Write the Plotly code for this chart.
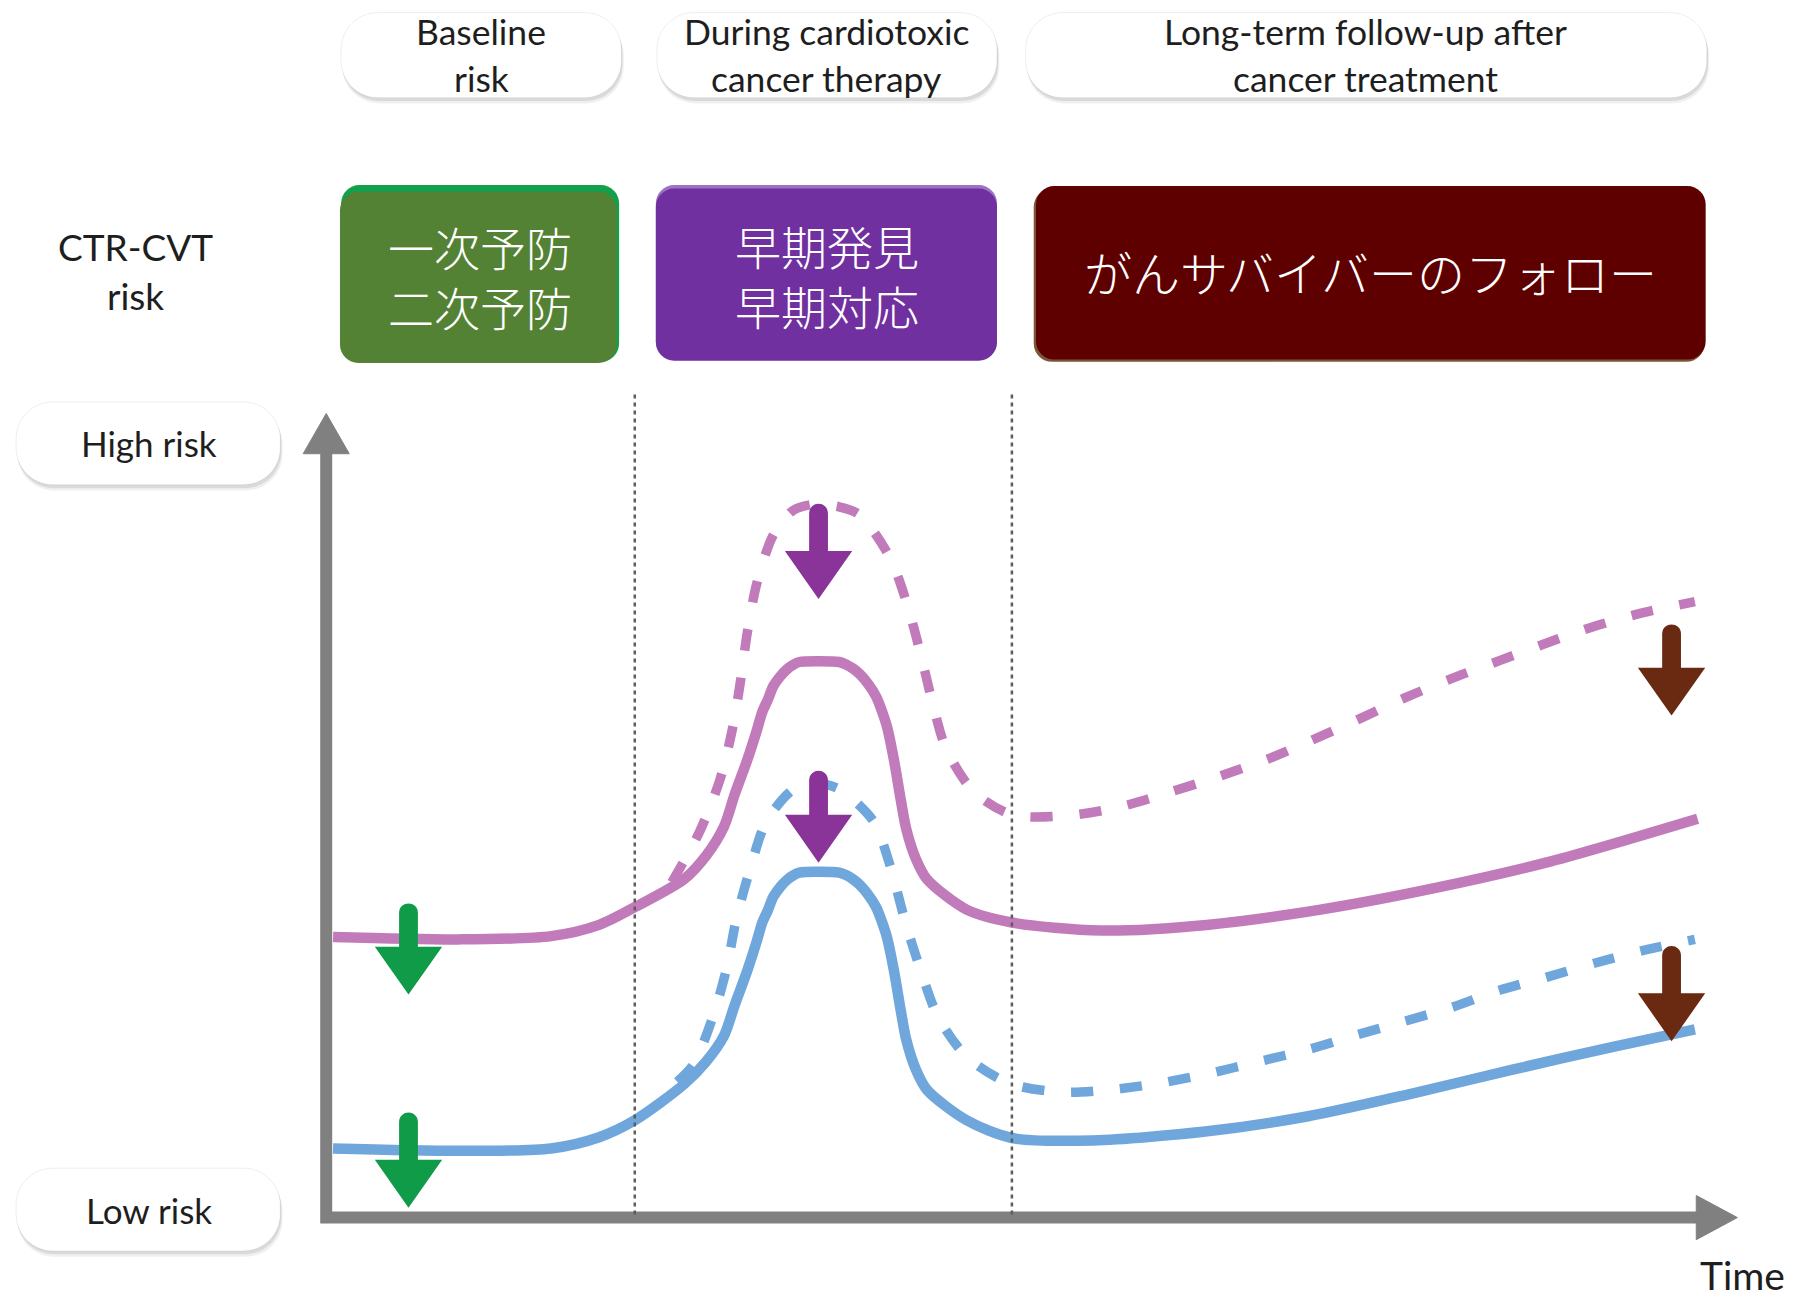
import plotly.graph_objects as go

# ---------------------------------------------------------------------------
# Risk trajectories (time in arbitrary units 0-100, risk in arbitrary units)
# purple = high baseline risk patient, blue = low baseline risk patient
# solid = with cardio-oncology care, dashed = without
# ---------------------------------------------------------------------------
high_solid_t = [0.5, 9.7, 16.4, 19.9, 22.5, 26.1, 27.7, 29.0, 29.8, 30.7,
                31.4, 31.8, 32.2, 32.6, 33.1, 33.6, 34.0, 34.5, 35.9, 37.4,
                37.9, 38.4, 38.9, 39.5, 40.1, 40.5, 40.9, 41.4, 41.9, 42.3,
                43.0, 43.8, 46.7, 50.0, 56.5, 64.2, 72.5, 80.9, 89.3, 100.0]
high_solid_risk = [34.9, 34.6, 35.0, 36.4, 38.6, 42.1, 45.0, 48.6, 52.7, 56.9,
                   60.6, 62.9, 64.4, 66.1, 67.3, 68.2, 68.7, 69.1, 69.2, 69.1,
                   68.8, 68.3, 67.6, 66.4, 64.8, 63.1, 61.0, 56.9, 51.9, 48.3,
                   44.6, 42.1, 38.3, 36.7, 35.7, 36.4, 38.3, 41.0, 44.3, 49.6]

high_dashed_t = [25.2, 27.2, 28.7, 29.6, 30.2, 30.7, 31.4, 32.6, 34.0, 35.5, 37.4, 38.9,
                 41.1, 42.3, 43.3, 44.2, 45.2, 47.2, 50.0, 54.0, 57.7, 61.5, 64.8, 68.6,
                 71.9, 75.3, 78.6, 82.0, 85.6, 88.9, 92.6, 96.2, 99.8]
high_dashed_risk = [41.7, 47.9, 54.4, 60.6, 66.6, 72.7, 78.9, 84.9, 87.9, 88.7, 88.4, 87.4,
                    82.1, 76.6, 70.4, 64.1, 58.3, 53.0, 50.1, 50.0, 51.0, 52.9, 54.7, 57.0,
                    59.4, 62.0, 64.6, 67.0, 69.3, 71.4, 73.6, 75.3, 76.6]

low_solid_t = [0.5, 9.7, 16.4, 19.9, 22.5, 26.1, 27.7, 29.0, 29.8, 30.7,
               31.4, 31.8, 32.2, 32.6, 33.1, 33.6, 34.0, 34.5, 35.9, 37.4,
               37.9, 38.4, 38.9, 39.5, 40.1, 40.5, 40.9, 41.4, 41.9, 42.3,
               43.0, 43.8, 46.7, 50.0, 55.9, 64.1, 71.6, 79.1, 86.5, 94.0, 99.8]
low_solid_risk = [8.6, 8.3, 8.6, 10.0, 12.1, 16.6, 19.4, 22.6, 26.5, 30.7,
                  34.4, 36.7, 38.2, 39.9, 41.1, 42.0, 42.5, 42.9, 43.0, 42.9,
                  42.6, 42.1, 41.4, 40.2, 38.6, 36.9, 34.8, 30.7, 25.7, 22.1,
                  18.4, 15.9, 12.1, 9.9, 9.6, 10.7, 12.6, 15.4, 18.4, 21.3, 23.4]

low_dashed_t = [25.6, 26.8, 28.2, 29.2, 29.9, 30.9, 32.1, 34.1, 35.8, 37.4, 39.9, 41.2,
                42.2, 43.3, 44.6, 46.7, 49.8, 53.6, 57.2, 60.7, 64.3, 68.0, 71.6, 75.1,
                78.6, 82.0, 85.6, 89.2, 92.6, 96.2, 99.8]
low_dashed_risk = [16.9, 19.1, 25.0, 31.0, 37.1, 43.3, 49.3, 53.3, 54.0, 53.3, 49.3, 43.3,
                   36.9, 31.0, 25.0, 20.0, 16.7, 15.6, 15.9, 16.7, 17.9, 19.4, 20.9, 22.7,
                   24.4, 26.1, 28.3, 30.0, 31.7, 33.3, 34.6]

# Phase boundaries on the time axis
phase_bounds_t = [22.5, 50.0]

# Intervention arrows: (time, shaft top risk, tip risk, colour)
arrow_t = [6.0, 6.0, 35.9, 35.9, 98.1, 98.1]
arrow_tail = [37.9, 11.9, 87.6, 54.4, 72.6, 32.6]
arrow_tip = [27.9, 1.4, 77.1, 44.3, 62.6, 22.1]
arrow_color = ["#0f9b48", "#0f9b48", "#8a3399", "#8a3399", "#6a2a12", "#6a2a12"]

# Text
phase_labels = [["Baseline", "risk"],
                ["During cardiotoxic", "cancer therapy"],
                ["Long-term follow-up after", "cancer treatment"]]
action_labels = ["一次予防<br>二次予防", "早期発見<br>早期対応", "がんサバイバーのフォロー"]
risk_labels = ["High risk", "Low risk"]

PURPLE = "#c27bba"
BLUE = "#6fa6dc"
AXIS_GREY = "#808080"
TEXT = "#1e1e1e"
LATIN = "Lato, 'Open Sans', sans-serif"
CJK = "'Noto Sans CJK JP', 'Noto Sans CJK SC', sans-serif"

T_RANGE = [-23.786, 107.538]
R_RANGE = [-10.0, 151.43]
# layout frame used for boxes and labels
FW, FH = 1568, 1130

fig = go.Figure()

dash_style = dict(width=9.5, dash="22px,27px", shape="spline", smoothing=0.8)
solid_style = dict(width=10.5, shape="spline", smoothing=0.8)

fig.add_trace(go.Scatter(x=high_dashed_t, y=high_dashed_risk, mode="lines",
                         line=dict(color=PURPLE, **dash_style),
                         hoverinfo="skip", showlegend=False))
fig.add_trace(go.Scatter(x=low_dashed_t, y=low_dashed_risk, mode="lines",
                         line=dict(color=BLUE, **dash_style),
                         hoverinfo="skip", showlegend=False))
fig.add_trace(go.Scatter(x=high_solid_t, y=high_solid_risk, mode="lines",
                         line=dict(color=PURPLE, **solid_style),
                         hoverinfo="skip", showlegend=False))
fig.add_trace(go.Scatter(x=low_solid_t, y=low_solid_risk, mode="lines",
                         line=dict(color=BLUE, **solid_style),
                         hoverinfo="skip", showlegend=False))

shapes = []


def rounded_rect(x0, y0, x1, y1, r):
    k = 0.5523 * r
    return (f"M{x0 + r},{y0} L{x1 - r},{y0} "
            f"C{x1 - r + k},{y0} {x1},{y0 + r - k} {x1},{y0 + r} "
            f"L{x1},{y1 - r} C{x1},{y1 - r + k} {x1 - r + k},{y1} {x1 - r},{y1} "
            f"L{x0 + r},{y1} C{x0 + r - k},{y1} {x0},{y1 - r + k} {x0},{y1 - r} "
            f"L{x0},{y0 + r} C{x0},{y0 + r - k} {x0 + r - k},{y0} {x0 + r},{y0} Z")


def frame_shape(path, fill, line_color=None, line_width=0):
    return dict(type="path", xref="x2", yref="y2", path=path, fillcolor=fill,
                line=dict(color=line_color or fill, width=line_width), layer="below")


def pill(x0, y0, x1, y1, r=32):
    return [frame_shape(rounded_rect(x0 + 1, y0 + 5, x1 + 2, y1 + 5, r), "rgba(0,0,0,0.06)"),
            frame_shape(rounded_rect(x0 + 1, y0 + 3, x1 + 1, y1 + 3, r), "rgba(0,0,0,0.09)"),
            frame_shape(rounded_rect(x0, y0, x1, y1, r), "#ffffff", "rgba(0,0,0,0.07)", 1)]


# Phase pills and risk pills
pill_boxes = [(297, 11, 541, 85), (572, 11, 868, 85), (893, 11, 1486, 85)]
for b in pill_boxes:
    shapes += pill(*b)
risk_boxes = [(14, 350, 244, 422), (14, 1017, 244, 1089)]
for b in risk_boxes:
    shapes += pill(*b)

# Coloured action boxes (with their slightly offset backing edge)
shapes.append(frame_shape(rounded_rect(297, 161, 539, 315, 16), "#12a04c"))
shapes.append(frame_shape(rounded_rect(296, 167, 537, 316, 16), "#548235"))
shapes.append(frame_shape(rounded_rect(571, 161, 868, 313, 16), "#9a73c2"))
shapes.append(frame_shape(rounded_rect(571, 164, 868, 314, 16), "#7030a0"))
shapes.append(frame_shape(rounded_rect(900, 164, 1484, 315, 16), "#7a5636"))
shapes.append(frame_shape(rounded_rect(902, 162, 1485, 313, 16), "#5e0000"))

# Axes with arrowheads (data coordinates)
shapes.append(dict(type="path", xref="x", yref="y", path="M0,95.3 L0,0 L100.0,0",
                   line=dict(color=AXIS_GREY, width=12), layer="above"))
shapes.append(dict(type="path", xref="x", yref="y", path="M-1.68,95.0 L0,100.0 L1.68,95.0 Z",
                   fillcolor=AXIS_GREY, line=dict(color=AXIS_GREY, width=1), layer="above"))
shapes.append(dict(type="path", xref="x", yref="y", path="M99.9,2.75 L102.9,0 L99.9,-2.75 Z",
                   fillcolor=AXIS_GREY, line=dict(color=AXIS_GREY, width=1), layer="above"))

# Phase boundaries
for tb in phase_bounds_t:
    shapes.append(dict(type="line", xref="x", yref="y", x0=tb, x1=tb, y0=0.4, y1=102.6,
                       line=dict(color="#5c5c5c", width=2.5, dash="4px,4px"), layer="above"))

# Block arrows
SHAFT_W, HEAD_W, HEAD_H = 1.26, 4.7, 5.7
CAP_K = 1.33 * (SHAFT_W / 2) * (11.94 / 7.0)


def block_arrow(t, tail, tip):
    hw = SHAFT_W / 2
    base = tip + HEAD_H
    return (f"M{t - hw},{base} L{t - hw},{tail} "
            f"C{t - hw},{tail + CAP_K} {t + hw},{tail + CAP_K} {t + hw},{tail} "
            f"L{t + hw},{base} L{t + HEAD_W / 2},{base} L{t},{tip} "
            f"L{t - HEAD_W / 2},{base} Z")


for t, tail, tip, col in zip(arrow_t, arrow_tail, arrow_tip, arrow_color):
    shapes.append(dict(type="path", xref="x", yref="y", path=block_arrow(t, tail, tip),
                       fillcolor=col, line=dict(color=col, width=1.5), layer="above"))

annotations = []


def label(x, y, text, size, color=TEXT, family=LATIN, weight=None, xanchor="center"):
    font = dict(family=family, size=size, color=color)
    if weight:
        font["weight"] = weight
    annotations.append(dict(xref="x2", yref="y2", x=x, y=y, text=text, showarrow=False,
                            xanchor=xanchor, yanchor="middle", font=font))


# Phase titles
phase_cx = [419, 720, 1189]
for cx, lines in zip(phase_cx, phase_labels):
    label(cx, 27.5, lines[0], 35.5)
    label(cx, 68.5, lines[1], 35.5)

# Row title
label(118, 215, "CTR-CVT", 37)
label(118, 257, "risk", 37)

# Action texts
label(418, 240, action_labels[0], 46, "#ffffff", CJK, 300)
label(720, 239, action_labels[1], 46, "#ffffff", CJK, 300)
label(1193, 236, action_labels[2], 48, "#ffffff", CJK, 300)

# Risk level labels
label(130, 386, risk_labels[0], 35)
label(130, 1053, risk_labels[1], 35)

# Time axis label
label(1517, 1110, "Time", 39)

hidden = dict(visible=False, showgrid=False, zeroline=False, fixedrange=True)
fig.update_layout(
    width=1801, height=1298,
    margin=dict(l=0, r=0, t=0, b=0, pad=0),
    paper_bgcolor="#ffffff", plot_bgcolor="#ffffff",
    showlegend=False,
    xaxis=dict(range=T_RANGE, domain=[0, 1], **hidden),
    yaxis=dict(range=R_RANGE, domain=[0, 1], **hidden),
    xaxis2=dict(range=[0, FW], domain=[0, 1], overlaying="x", anchor="y2", **hidden),
    yaxis2=dict(range=[FH, 0], domain=[0, 1], overlaying="y", anchor="x2", **hidden),
    shapes=shapes,
    annotations=annotations,
)

fig.write_html("out.html", config=dict(displayModeBar=False))
